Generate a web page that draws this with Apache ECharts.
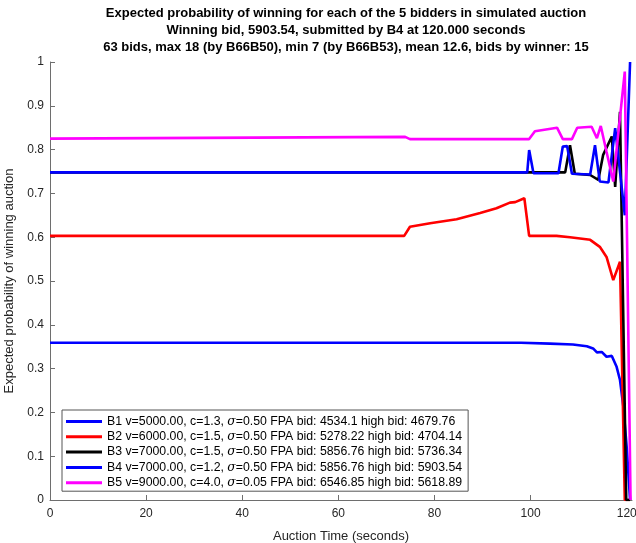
<!DOCTYPE html>
<html>
<head>
<meta charset="utf-8">
<script src="https://cdn.jsdelivr.net/npm/echarts@6/dist/echarts.min.js"></script>
<style>
  html, body { margin: 0; padding: 0; background: #fff; }
  #chart { width: 636px; height: 543px; }
</style>
</head>
<body>
<div id="chart"></div>
<script>
// Expected probability of winning per bidder over auction time (seconds)
const titleLines = [
  'Expected probability of winning for each of the 5 bidders in simulated auction',
  'Winning bid, 5903.54, submitted by B4 at 120.000 seconds',
  '63 bids, max 18 (by B66B50), min 7 (by B66B53), mean 12.6, bids by winner: 15'
];
const xTicks = [0, 20, 40, 60, 80, 100, 120];
const yTicks = [0, 0.1, 0.2, 0.3, 0.4, 0.5, 0.6, 0.7, 0.8, 0.9, 1];

const bidderNames = ['B1', 'B2', 'B3', 'B4', 'B5'];
const bidderColors = ['#0000ff', '#ff0000', '#000000', '#0000ff', '#ff00ff'];
const bidderInfo = [
  ['B1 v=5000.00, c=1.3, ', '=0.50 FPA bid: 4534.1 high bid: 4679.76'],
  ['B2 v=6000.00, c=1.5, ', '=0.50 FPA bid: 5278.22 high bid: 4704.14'],
  ['B3 v=7000.00, c=1.5, ', '=0.50 FPA bid: 5856.76 high bid: 5736.34'],
  ['B4 v=7000.00, c=1.2, ', '=0.50 FPA bid: 5856.76 high bid: 5903.54'],
  ['B5 v=9000.00, c=4.0, ', '=0.05 FPA bid: 6546.85 high bid: 5618.89']
];

const b1Time = [0, 98.0, 104.0, 108.8, 111.7, 113.0, 113.8, 114.8, 115.8, 116.9, 117.9, 118.6, 119.3, 120.0, 120.7];
const b1Prob = [0.359, 0.359, 0.357, 0.355, 0.351, 0.346, 0.337, 0.338, 0.327, 0.329, 0.304, 0.274, 0.213, 0.12, 0];

const b2Time = [0, 73.7, 74.9, 79.1, 84.6, 89.5, 92.9, 95.7, 96.8, 98.7, 99.7, 105.4, 108.2, 110.3, 112.4, 114.4, 115.8, 117.2, 117.6, 118.6, 119.6, 120.7];
const b2Prob = [0.603, 0.603, 0.624, 0.632, 0.641, 0.655, 0.666, 0.679, 0.680, 0.689, 0.603, 0.603, 0.600, 0.597, 0.594, 0.578, 0.555, 0.502, 0.498, 0.544, 0, 0];

const b3Time = [0, 107.2, 108.2, 109.2, 112.4, 114.1, 115.1, 116.9, 117.6, 118.6, 119.9, 120.7];
const b3Prob = [0.748, 0.748, 0.81, 0.745, 0.742, 0.731, 0.788, 0.83, 0.715, 0.886, 0, 0];

const b4Time = [0, 99.3, 99.7, 100.6, 105.8, 106.7, 107.6, 108.6, 112.4, 113.4, 114.4, 116.2, 117.6, 119.6, 120.7];
const b4Prob = [0.748, 0.748, 0.799, 0.746, 0.746, 0.807, 0.808, 0.745, 0.743, 0.81, 0.727, 0.725, 0.849, 0.65, 1.0];

const b5Time = [0, 73.9, 74.9, 99.7, 100.9, 105.5, 106.7, 108.6, 109.7, 112.7, 113.8, 114.6, 115.8, 117.2, 119.6, 120.8];
const b5Prob = [0.825, 0.829, 0.824, 0.824, 0.842, 0.85, 0.824, 0.824, 0.85, 0.852, 0.826, 0.854, 0.795, 0.727, 0.978, 0];

const timeSets = [b1Time, b2Time, b3Time, b4Time, b5Time];
const probSets = [b1Prob, b2Prob, b3Prob, b4Prob, b5Prob];

const font = '"Liberation Sans", Arial, Helvetica, sans-serif';
const textColor = '#262626';
const axisColor = '#6e6e6e';

const series = bidderNames.map((name, i) => ({
  name: name,
  type: 'line',
  showSymbol: false,
  symbol: 'none',
  animation: false,
  z: 2 + i,
  lineStyle: { color: bidderColors[i], width: 2.6 },
  itemStyle: { color: bidderColors[i] },
  data: timeSets[i].map((t, k) => [t, probSets[i][k]])
}));

const chart = echarts.init(document.getElementById('chart'), null, { renderer: 'canvas' });
chart.setOption({
  backgroundColor: '#fff',
  animation: false,
  title: {
    text: titleLines.join('\n'),
    left: 341,
    textAlign: 'center',
    top: 0,
    textStyle: { fontFamily: font, fontSize: 13, fontWeight: 'bold', color: '#000', lineHeight: 17 }
  },
  grid: { left: 50, right: 4, top: 62, bottom: 43, containLabel: false, outerBoundsMode: 'none' },
  xAxis: {
    type: 'value',
    min: 0,
    max: 121.1,
    interval: 20,
    name: 'Auction Time (seconds)',
    nameLocation: 'middle',
    nameGap: 30,
    nameTextStyle: { fontFamily: font, fontSize: 13, color: textColor },
    axisLine: { show: true, lineStyle: { color: axisColor, width: 1 } },
    axisTick: { show: true, inside: true, length: 5, lineStyle: { color: axisColor } },
    axisLabel: {
      fontFamily: font, fontSize: 12, color: textColor, margin: 8,
      showMaxLabel: false,
      formatter: v => (xTicks.indexOf(v) >= 0 ? String(v) : '')
    },
    splitLine: { show: false }
  },
  yAxis: {
    type: 'value',
    min: 0,
    max: 1,
    interval: 0.1,
    name: 'Expected probability of winning auction',
    nameLocation: 'middle',
    nameGap: 27,
    nameTextStyle: { fontFamily: font, fontSize: 13, color: textColor },
    axisLine: { show: true, lineStyle: { color: axisColor, width: 1 } },
    axisTick: { show: true, inside: true, length: 5, lineStyle: { color: axisColor } },
    axisLabel: {
      fontFamily: font, fontSize: 12, color: textColor, margin: 6,
      formatter: v => {
        const r = Math.round(v * 10) / 10;
        return yTicks.indexOf(r) >= 0 ? String(r) : '';
      }
    },
    splitLine: { show: false }
  },
  legend: {
    orient: 'vertical',
    left: 62,
    top: 410,
    padding: [5, 6, 2, 4],
    itemGap: 2.3,
    itemWidth: 36,
    itemHeight: 3,
    icon: 'rect',
    backgroundColor: '#fff',
    borderColor: '#555',
    borderWidth: 1,
    borderRadius: 0,
    data: bidderNames.map((n, i) => ({ name: n, itemStyle: { color: bidderColors[i] } })),
    formatter: name => {
      const i = bidderNames.indexOf(name);
      return '{a|' + bidderInfo[i][0] + '}{s|\u03c3}{a|' + bidderInfo[i][1] + '}';
    },
    textStyle: {
      fontFamily: font, fontSize: 12.3, color: '#000', lineHeight: 13,
      rich: {
        a: { fontFamily: font, fontSize: 12.3, color: '#000' },
        s: { fontFamily: '"DejaVu Serif", "Liberation Serif", serif', fontStyle: 'italic', fontSize: 12.3, color: '#000' }
      }
    }
  },
  series: series
});
</script>
</body>
</html>
